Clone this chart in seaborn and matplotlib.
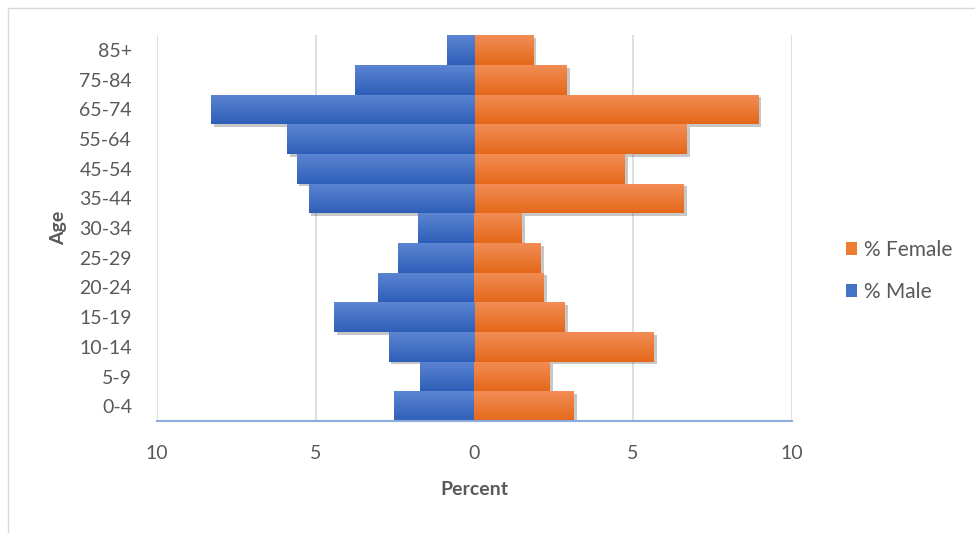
import numpy as np
import pandas as pd
import seaborn as sns
import matplotlib.pyplot as plt
import matplotlib.patheffects as pe
from matplotlib.colors import to_rgba
from matplotlib.patches import Rectangle

# Age groups, listed from the top of the pyramid down
ages = ["85+", "75-84", "65-74", "55-64", "45-54", "35-44", "30-34",
        "25-29", "20-24", "15-19", "10-14", "5-9", "0-4"]
female_pct = [1.86, 2.92, 8.96, 6.70, 4.75, 6.60, 1.51,
              2.11, 2.20, 2.86, 5.66, 2.39, 3.14]
male_pct = [0.86, 3.77, 8.30, 5.91, 5.60, 5.22, 1.76,
            2.39, 3.02, 4.43, 2.70, 1.70, 2.52]
x_ticks = [-10, -5, 0, 5, 10]
x_tick_labels = ["10", "5", "0", "5", "10"]

series_names = ["% Female", "% Male"]
colors = {"% Female": "#ED7D31", "% Male": "#4472C4"}
# light (top) / dark (bottom) shades for the bar fill gradient
shades = {"% Female": ("#F28D55", "#E4681A"), "% Male": ("#5C85D2", "#2E5FB8")}

df = pd.concat([
    pd.DataFrame({"Age": ages, "Percent": female_pct, "Sex": "% Female"}),
    pd.DataFrame({"Age": ages, "Percent": [-v for v in male_pct], "Sex": "% Male"}),
], ignore_index=True)

sns.set_theme(style="white")
plt.rcParams["font.family"] = ["Lato", "DejaVu Sans"]

text_color = "#595959"
fs = 14

fig = plt.figure(figsize=(9.75, 5.33), dpi=100)
ax = fig.add_axes([0.161, 0.210, 0.651, 0.724])

sns.barplot(data=df, x="Percent", y="Age", hue="Sex", order=ages,
            hue_order=series_names, palette=colors, dodge=False,
            width=1.0, orient="h", ax=ax, saturation=1.0, linewidth=0)

ax.set_xlim(-10, 10)
ax.set_ylim(12.5, -0.5)

shadow = [pe.SimplePatchShadow(offset=(2, -2), shadow_rgbFace="#000000", alpha=0.22),
          pe.Normal()]

# vertical light-to-dark fill on every bar
n_female = len(ages)
for i, bar in enumerate(list(ax.patches)):
    if bar.get_width() == 0:
        continue
    bar.set_path_effects(shadow)
    key = "% Female" if i < n_female else "% Male"
    top, bottom = np.array(to_rgba(shades[key][0])), np.array(to_rgba(shades[key][1]))
    t = np.linspace(0, 1, 64)[:, None, None]
    grad = top[None, None, :] * (1 - t) + bottom[None, None, :] * t
    x0, y0 = bar.get_x(), bar.get_y()
    w, h = bar.get_width(), bar.get_height()
    im = ax.imshow(grad, extent=(min(x0, x0 + w), max(x0, x0 + w), y0 + h, y0),
                   origin="upper", aspect="auto", interpolation="bilinear",
                   zorder=bar.get_zorder() + 0.1)
    im.set_clip_path(bar)

ax.set_xlim(-10, 10)
ax.set_ylim(12.5, -0.5)
ax.set_xticks(x_ticks)
ax.set_xticklabels(x_tick_labels)

for x in x_ticks:
    ax.axvline(x, color="#D9D9D9", lw=1.2, zorder=0)

for side in ["top", "right", "left"]:
    ax.spines[side].set_visible(False)
ax.spines["bottom"].set_color("#8FAADC")
ax.spines["bottom"].set_linewidth(1.5)
ax.spines["bottom"].set_zorder(5)

ax.tick_params(axis="x", length=0, pad=17, labelsize=fs, labelcolor=text_color)
ax.tick_params(axis="y", length=0, pad=18, labelsize=fs, labelcolor=text_color)

ax.set_xlabel("Percent", fontsize=fs, fontweight="bold", color=text_color, labelpad=14)
ax.set_ylabel("Age", fontsize=fs, fontweight="bold", color=text_color, labelpad=9)

handles, labels = ax.get_legend_handles_labels()
ax.legend(handles, labels, loc="center left", bbox_to_anchor=(1.085, 0.389),
          frameon=False, fontsize=15, labelcolor=text_color,
          handlelength=0.55, handleheight=0.55, handletextpad=0.35,
          labelspacing=1.05, borderpad=0, borderaxespad=0)

# Thin chart border
fig.patches.append(Rectangle((0.008, -0.01), 1.0, 0.995, transform=fig.transFigure,
                             fill=False, edgecolor="#D9D9D9", lw=1))

fig.savefig("out.png", dpi=100)
